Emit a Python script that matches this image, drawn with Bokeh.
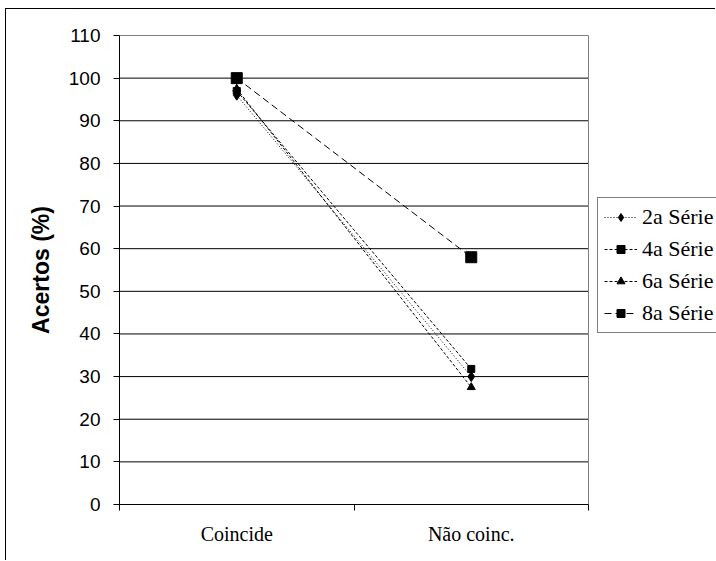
from bokeh.plotting import figure
from bokeh.models import Range1d, FixedTicker, Legend
from bokeh.embed import file_html
from bokeh.resources import INLINE

categories = ["Coincide", "Não coinc."]
series_names = ["2a Série", "4a Série", "6a Série", "8a Série"]
s2 = [96, 30]
s4 = [97, 31.8]
s6 = [97.5, 27.5]
s8 = [100, 58]
y_ticks = list(range(0, 111, 10))

n = len(categories)
xs = [i + 0.5 for i in range(n)]

# plot area spans 469 px of a 597 px wide frame (frame runs to the window edge)
x_end = n * 597 / 469

p = figure(width=710, height=552, output_backend="svg", toolbar_location=None,
           x_range=Range1d(0, x_end), y_range=Range1d(0, 110),
           min_border_left=113, min_border_right=0, min_border_top=26, min_border_bottom=57)
p.margin = (8, 0, 0, 5)
p.styles = {"border-left": "1px solid black", "border-top": "1px solid black"}
p.background_fill_color = "white"
p.border_fill_color = "white"
p.outline_line_color = None

# y axis
p.yaxis.ticker = FixedTicker(ticks=y_ticks)
p.yaxis.axis_line_color = "black"
p.yaxis.major_tick_out = 6
p.yaxis.major_tick_in = 0
p.yaxis.minor_tick_line_color = None
p.yaxis.major_label_text_font = "Liberation Sans"
p.yaxis.major_label_text_font_size = "19px"
p.yaxis.major_label_text_color = "black"
p.yaxis.major_label_standoff = 13
p.yaxis.axis_label = "Acertos (%)"
p.yaxis.axis_label_text_font = "Liberation Sans"
p.yaxis.axis_label_text_font_style = "bold"
p.yaxis.axis_label_text_font_size = "23px"
p.yaxis.axis_label_text_color = "black"
p.yaxis.axis_label_standoff = 12

# x axis
p.xaxis.bounds = (0, n)
p.xaxis.ticker = FixedTicker(ticks=xs, minor_ticks=list(range(n + 1)))
p.xaxis.major_label_overrides = {x: c for x, c in zip(xs, categories)}
p.xaxis.axis_line_color = "black"
p.xaxis.major_tick_out = 0
p.xaxis.major_tick_in = 0
p.xaxis.minor_tick_out = 6
p.xaxis.minor_tick_in = 0
p.xaxis.minor_tick_line_color = "black"
p.xaxis.major_label_text_font = "Liberation Serif"
p.xaxis.major_label_text_font_size = "20px"
p.xaxis.major_label_text_color = "black"
p.xaxis.major_label_standoff = 12

p.xgrid.grid_line_color = None
p.ygrid.grid_line_color = None

# horizontal gridlines limited to the plot area
p.segment(x0=[0] * len(y_ticks), x1=[n] * len(y_ticks), y0=y_ticks, y1=y_ticks,
          line_color="black", line_width=1)
# right edge of plot area
p.segment(x0=[n], x1=[n], y0=[0], y1=[110], line_color="#808080", line_width=1)

styles = [
    (s2, "1 2", "diamond", 10),
    (s4, "3 2", "square", 7),
    (s6, "3 2", "triangle", 8),
    (s8, "7 4", "square", 11),
]
items = []
for name, (vals, dash, marker, size) in zip(series_names, styles):
    r1 = p.line(xs, vals, line_color="black", line_width=1, line_dash=dash)
    r2 = p.scatter(xs, vals, marker=marker, size=size, fill_color="black", line_color="black")
    items.append((name, [r1, r2]))

legend = Legend(items=items, location=(478, 171), orientation="vertical",
                label_text_font="Liberation Serif", label_text_font_size="22px",
                label_text_color="black", border_line_color="black", border_line_width=1,
                background_fill_color="white", background_fill_alpha=1,
                padding=6, spacing=6, margin=0, glyph_width=33, glyph_height=20,
                label_height=20, label_standoff=5)
p.add_layout(legend, "center")

open("out.html", "w").write(file_html(p, INLINE))
